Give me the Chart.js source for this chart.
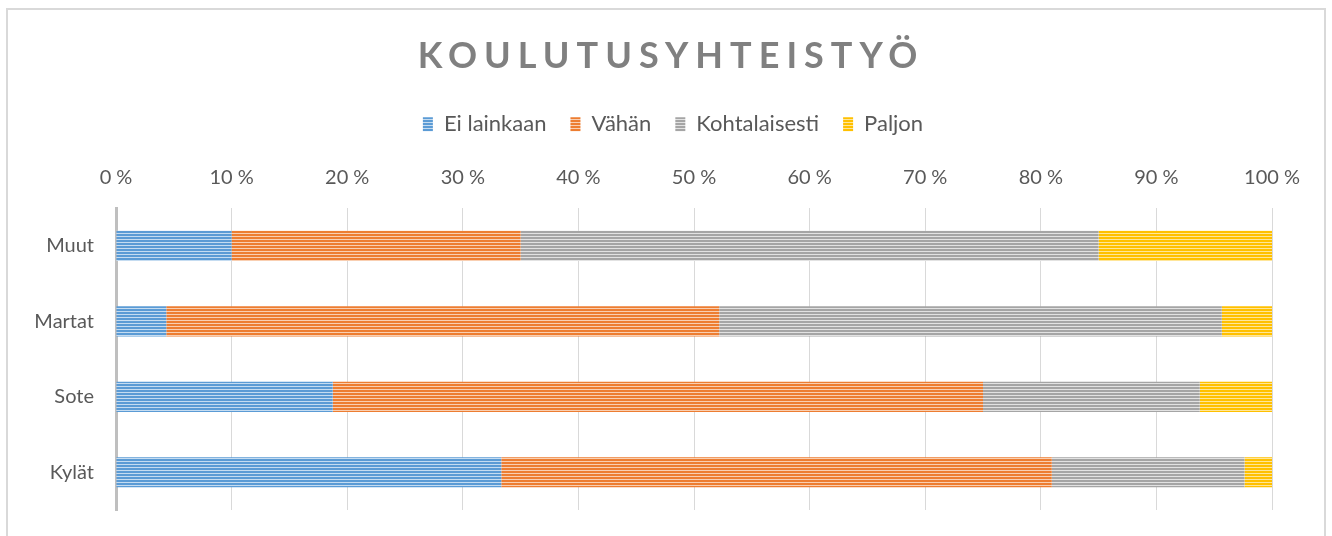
<!DOCTYPE html>
<html>
<head>
<meta charset="utf-8">
<script src="https://cdn.jsdelivr.net/npm/chart.js@4/dist/chart.umd.min.js"></script>
<style>
  html, body { margin: 0; padding: 0; background: #fff; overflow: hidden; }
  #frame { position: absolute; left: 6px; top: 8px; width: 1316px; height: 600px; border: 2px solid #d9d9d9; }
  #wrap { position: absolute; left: 0; top: 0; width: 1332px; height: 536px; }
</style>
</head>
<body>
<div id="frame"></div>
<div id="wrap"><canvas id="c" width="1332" height="536"></canvas></div>
<script>
const categories = ['Muut', 'Martat', 'Sote', 'Kylät'];
const seriesNames = ['Ei lainkaan', 'Vähän', 'Kohtalaisesti', 'Paljon'];
const eiLainkaan = [10, 4.35, 18.75, 33.33];
const vahan = [25, 47.83, 56.25, 47.62];
const kohtalaisesti = [50, 43.48, 18.75, 16.67];
const paljon = [15, 4.35, 6.25, 2.38];
const tickValues = [0, 10, 20, 30, 40, 50, 60, 70, 80, 90, 100];
const chartTitle = 'KOULUTUSYHTEISTYÖ';

function stripe(dark, light) {
  const p = document.createElement('canvas');
  p.width = 4; p.height = 3;
  const g = p.getContext('2d');
  g.fillStyle = dark; g.fillRect(0, 0, 4, 2);
  g.fillStyle = light; g.fillRect(0, 2, 4, 1);
  return g.createPattern(p, 'repeat');
}
const ctx = document.getElementById('c').getContext('2d');
const fills = [
  stripe('#5b9bd5', '#c5dcf1'),
  stripe('#ed7d31', '#f9cfb2'),
  stripe('#a5a5a5', '#e2e2e2'),
  stripe('#ffc000', '#ffe699')
];
const values = [eiLainkaan, vahan, kohtalaisesti, paljon];

const FONT = "Lato, 'Open Sans', sans-serif";
const chart = new Chart(ctx, {
  type: 'bar',
  data: {
    labels: categories,
    datasets: seriesNames.map((n, i) => ({
      label: n,
      data: values[i],
      backgroundColor: fills[i],
      borderWidth: 0,
      barPercentage: 0.8,
      categoryPercentage: 0.5
    }))
  },
  options: {
    indexAxis: 'y',
    responsive: false,
    animation: false,
    layout: { padding: { left: 0, right: 0, top: 0, bottom: 26 } },
    plugins: {
      title: {
        display: true,
        text: chartTitle,
        color: '#808080',
        font: { family: FONT, size: 36, weight: 'bold' },
        padding: { top: 35, bottom: 11 }
      },
      legend: {
        display: true,
        position: 'top',
        labels: {
          color: '#595959',
          font: { family: FONT, size: 22 },
          boxWidth: 10,
          boxHeight: 14,
          padding: 24
        }
      },
      tooltip: { enabled: false }
    },
    scales: {
      x: {
        type: 'linear',
        position: 'top',
        stacked: true,
        min: 0, max: 100,
        afterBuildTicks: (s) => { s.ticks = tickValues.map(v => ({ value: v })); },
        ticks: {
          color: '#595959',
          font: { family: FONT, size: 20 },
          padding: 19,
          callback: (v) => v + ' %'
        },
        grid: { color: '#d9d9d9', lineWidth: 1, drawTicks: false },
        border: { display: false },
        afterFit: (s) => { s.height = 63; s.paddingLeft = 0; s.paddingRight = 60; }
      },
      y: {
        stacked: true,
        ticks: {
          color: '#595959',
          font: { family: FONT, size: 20 },
          padding: 22
        },
        grid: { display: false, drawTicks: false },
        border: { display: true, color: '#bfbfbf', width: 3 },
        afterFit: (s) => { s.width = 116; s.paddingTop = 0; s.paddingBottom = 0; }
      }
    }
  }
});

// letter-spaced title, small horizontal nudges to match the reference
const tb = chart.titleBlock;
if (tb) {
  const orig = tb.draw.bind(tb);
  tb.draw = function() {
    const c = this.ctx;
    c.save();
    c.letterSpacing = '7px';
    c.translate(5, 0);
    orig();
    c.restore();
  };
}
const lg = chart.legend;
if (lg) {
  const origL = lg.draw.bind(lg);
  lg.draw = function() {
    const c = this.ctx;
    c.save();
    c.translate(7, 0);
    origL();
    c.restore();
  };
}
chart.draw();
</script>
</body>
</html>
